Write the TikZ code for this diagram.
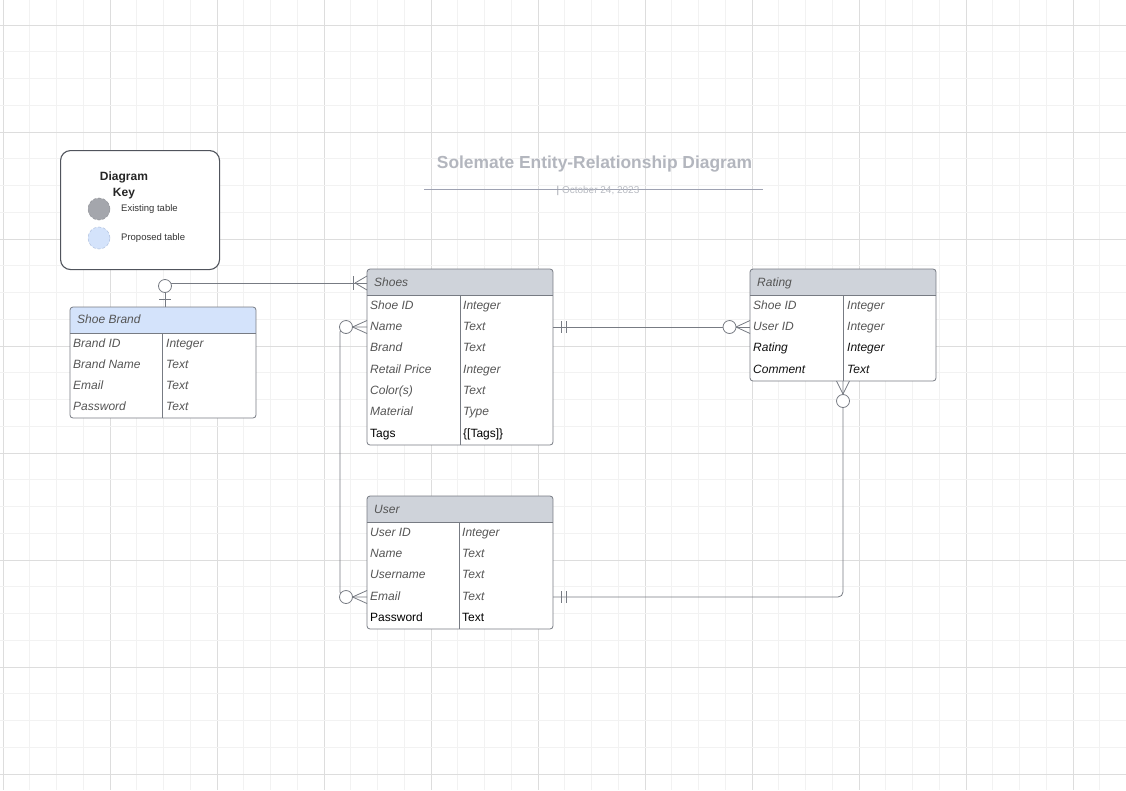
\documentclass[tikz,border=0pt]{standalone}
\usepackage{fontspec}
\setmainfont{Liberation Sans}
\usetikzlibrary{calc}
\definecolor{gridminor}{HTML}{F2F2F2}
\definecolor{gridmajor}{HTML}{DDDDDD}
\definecolor{lineg}{HTML}{777B83}
\definecolor{hdrgray}{HTML}{CFD3DA}
\definecolor{hdrblue}{HTML}{D4E3FB}
\definecolor{txtg}{HTML}{555555}
\definecolor{txtb}{HTML}{111111}
\definecolor{titleg}{HTML}{B3B6BE}
\definecolor{dateg}{HTML}{B8BBC2}
\definecolor{datebar}{HTML}{9A9EA8}
\definecolor{dateline}{HTML}{9EA2B2}
\definecolor{keyborder}{HTML}{50545C}
\definecolor{keygray}{HTML}{A4A6AC}
\definecolor{keygrayb}{HTML}{8E9096}
\definecolor{keyblueb}{HTML}{AFC0DE}
\newcommand{\erbox}[6]{%
  \node[tbl, minimum height=#4pt] (#1) at (#2,#3) {};
  \begin{scope}
    \clip[rounded corners=3pt] (#1.north west) rectangle (#1.south east);
    \fill[#5] (#1.north west) rectangle ($(#1.north east)+(0,26)$);
  \end{scope}
  \draw[tline] ($(#1.north west)+(0,26)$) -- ($(#1.north east)+(0,26)$);
  \draw[tline] (#6,#3+26) -- (#6,#3+#4);
  \draw[tline, rounded corners=3pt] (#1.north west) rectangle (#1.south east);
}
\begin{document}
\begin{tikzpicture}[x=1pt,y=-1pt,
  tbl/.style={fill=white, minimum width=186pt, anchor=north west, inner sep=0pt, outer sep=0pt},
  tline/.style={draw=lineg, line width=0.8pt},
  fld/.style={anchor=base west, inner sep=0pt, font=\fontsize{12}{14}\selectfont\itshape, text=txtg},
  fldb/.style={fld, text=txtb},
  fldu/.style={anchor=base west, inner sep=0pt, font=\fontsize{12}{14}\selectfont, text=black},
  conn/.style={draw=lineg, line width=0.8pt},
  zc/.style={draw=lineg, line width=0.8pt, fill=white},
]
\path[use as bounding box, fill=white] (0,0) rectangle (1126,790);
% grid
\foreach \i in {0,...,41}{
  \pgfmathsetmacro{\gx}{3+\i*26.75}
  \pgfmathtruncatemacro{\m}{mod(\i,4)}
  \ifnum\m=0 \draw[gridmajor, line width=0.9pt] (\gx,0) -- (\gx,790);
  \else \draw[gridminor, line width=0.8pt] (\gx,0) -- (\gx,790); \fi
}
\foreach \i in {-1,...,28}{
  \pgfmathsetmacro{\gy}{25+\i*26.75}
  \pgfmathtruncatemacro{\m}{mod(\i+4,4)}
  \ifnum\m=0 \draw[gridmajor, line width=0.9pt] (0,\gy) -- (1126,\gy);
  \else \draw[gridminor, line width=0.8pt] (0,\gy) -- (1126,\gy); \fi
}

% title
\node[inner sep=0pt, font=\bfseries\fontsize{17.4}{20}\selectfont, text=titleg] (title) at (594.5,164.5) {Solemate Entity-Relationship Diagram};
\draw[dateline, line width=0.9pt] (424,189.5) -- (763,189.5);
\node[inner sep=0pt, anchor=base, font=\fontsize{10}{12}\selectfont, text=dateg] (date) at (598,193.5) {\textcolor{datebar}{|}\ October 24, 2023};

% key
\node[draw=keyborder, line width=1.1pt, rounded corners=10pt, minimum width=159pt, minimum height=119pt, anchor=north west, inner sep=0pt, fill=white] (key) at (60,150) {};
\node[inner sep=0pt, font=\bfseries\fontsize{12}{16}\selectfont, align=center, text=black!85] (keytitle) at (124,185) {Diagram\\Key};
\node[circle, fill=keygray, draw=keygrayb, densely dashed, line width=0.5pt, minimum size=22pt, inner sep=0pt] (kex) at (99,209) {};
\node[circle, fill=hdrblue, draw=keyblueb, densely dashed, line width=0.5pt, minimum size=22pt, inner sep=0pt] (kpr) at (99,238) {};
\node[anchor=west, inner sep=0pt, font=\fontsize{9.5}{11}\selectfont, text=black!80] (kexl) at (121,209.5) {Existing table};
\node[anchor=west, inner sep=0pt, font=\fontsize{9.5}{11}\selectfont, text=black!80] (kprl) at (121,238.5) {Proposed table};

% connector bend points
\coordinate (k1) at (165,283);
\coordinate (k2) at (560,327);
\coordinate (k3a) at (340,327);
\coordinate (k3b) at (340,597);
\coordinate (k4) at (843,597);

% tables
\erbox{sb}{70}{307}{111}{hdrblue}{162}
\erbox{shoes}{367}{269}{176}{hdrgray}{460}
\erbox{rating}{750}{269}{112}{hdrgray}{843}
\erbox{user}{367}{496}{133}{hdrgray}{459}

% headers
\node[fld] (sbh) at (77,323) {Shoe Brand};
\node[fld] (shoesh) at (374,286) {Shoes};
\node[fld] (ratingh) at (757,286) {Rating};
\node[fld] (userh) at (374,513) {User};

% Shoe Brand rows
\foreach \t/\u [count=\i from 0] in {Brand ID/Integer, Brand Name/Text, Email/Text, Password/Text}{
  \node[fld] (sbA\i) at (73,347+\i*21.2) {\t};
  \node[fld] (sbB\i) at (166,347+\i*21.2) {\u};
}
% Shoes rows
\foreach \t/\u [count=\i from 0] in {Shoe ID/Integer, Name/Text, Brand/Text, Retail Price/Integer, Color(s)/Text, Material/Type}{
  \node[fld] (shA\i) at (370,309.2+\i*21.3) {\t};
  \node[fld] (shB\i) at (463,309.2+\i*21.3) {\u};
}
\node[fldu] (shA6) at (370,437) {Tags};
\node[fldu] (shB6) at (463,437) {\{[Tags]\}};
% Rating rows
\node[fld] (raA0) at (753,309.2) {Shoe ID};
\node[fld] (raB0) at (847,309.2) {Integer};
\node[fld] (raA1) at (753,330.5) {User ID};
\node[fld] (raB1) at (847,330.5) {Integer};
\node[fldb] (raA2) at (753,351.8) {Rating};
\node[fldb] (raB2) at (847,351.8) {Integer};
\node[fldb] (raA3) at (753,373.1) {Comment};
\node[fldb] (raB3) at (847,373.1) {Text};
% User rows
\foreach \t/\u [count=\i from 0] in {User ID/Integer, Name/Text, Username/Text, Email/Text}{
  \node[fld] (usA\i) at (370,536.2+\i*21.3) {\t};
  \node[fld] (usB\i) at (462,536.2+\i*21.3) {\u};
}
\node[fldu] (usA4) at (370,621.4) {Password};
\node[fldu] (usB4) at (462,621.4) {Text};

% connector 1: Shoe Brand -- Shoes
\draw[conn] (sb.north -| k1) -- (k1) -- (k1 -| shoes.west);
\draw[zc] (165,286) circle (6.5pt);
\draw[conn] (159,299) -- (171,299);
\draw[conn] (353,276) -- (353,290);
\draw[conn] (355,283) -- (367,276);
\draw[conn] (355,283) -- (367,290);

% connector 2: Shoes -- Rating
\draw[conn] (shoes.east |- k2) -- (rating.west |- k2);
\draw[conn] (561,321) -- (561,333);
\draw[conn] (566,321) -- (566,333);
\draw[zc] (729.5,327) circle (6.5pt);
\draw[conn] (736,327) -- (750,320.5);
\draw[conn] (736,327) -- (750,333.5);

% connector 3: Shoes -- User
\draw[conn, rounded corners=5pt] (shoes.west |- k3a) -- (k3a) -- (k3b) -- (user.west |- k3b);
\draw[zc] (346,327) circle (6.5pt);
\draw[conn] (352.5,327) -- (367,320.5);
\draw[conn] (352.5,327) -- (367,333.5);
\draw[zc] (346,597) circle (6.5pt);
\draw[conn] (352.5,597) -- (367,590.5);
\draw[conn] (352.5,597) -- (367,603.5);

% connector 4: Rating -- User
\draw[conn, rounded corners=5pt] (rating.south -| k4) -- (k4) -- (user.east |- k4);
\draw[conn] (843,394) -- (836.5,381);
\draw[conn] (843,394) -- (849.5,381);
\draw[zc] (843,401) circle (6.5pt);
\draw[conn] (561,591) -- (561,603);
\draw[conn] (566,591) -- (566,603);
\end{tikzpicture}
\end{document}
